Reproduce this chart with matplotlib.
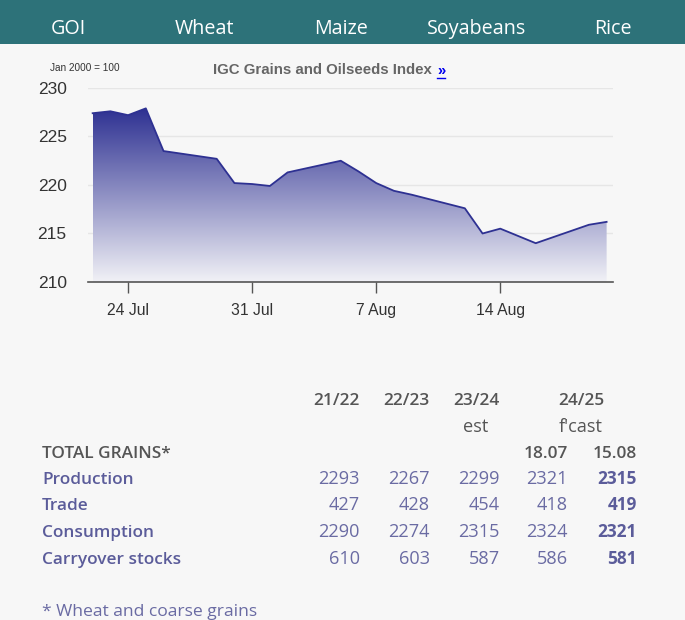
import matplotlib
matplotlib.use("Agg")
import matplotlib.pyplot as plt
import matplotlib.dates as mdates
from matplotlib.path import Path
from matplotlib.patches import PathPatch, Rectangle
from matplotlib.lines import Line2D
from matplotlib.colors import LinearSegmentedColormap
import numpy as np
import datetime as dt

# ---------------- data ----------------
nav_items = ["GOI", "Wheat", "Maize", "Soyabeans", "Rice"]

dates = ["2024-07-22", "2024-07-23", "2024-07-24", "2024-07-25", "2024-07-26",
         "2024-07-29", "2024-07-30", "2024-07-31", "2024-08-01", "2024-08-02",
         "2024-08-05", "2024-08-06", "2024-08-07", "2024-08-08", "2024-08-09",
         "2024-08-12", "2024-08-13", "2024-08-14", "2024-08-15", "2024-08-16",
         "2024-08-19", "2024-08-20"]
index_values = [227.4, 227.6, 227.2, 227.9, 223.5,
                222.7, 220.2, 220.1, 219.9, 221.3,
                222.5, 221.4, 220.2, 219.4, 219.0,
                217.6, 215.0, 215.5, 214.75, 214.0,
                215.9, 216.2]
xtick_dates = ["2024-07-24", "2024-07-31", "2024-08-07", "2024-08-14"]
xtick_labels = ["24 Jul", "31 Jul", "7 Aug", "14 Aug"]
yticks = [210, 215, 220, 225, 230]

col_headers = ["21/22", "22/23", "23/24", "24/25"]
sub_headers = ["est", "f'cast"]
total_label = "TOTAL GRAINS*"
forecast_dates = ["18.07", "15.08"]
row_labels = ["Production", "Trade", "Consumption", "Carryover stocks"]
production = [2293, 2267, 2299, 2321, 2315]
trade = [427, 428, 454, 418, 419]
consumption = [2290, 2274, 2315, 2324, 2321]
carryover = [610, 603, 587, 586, 581]
footnote = "* Wheat and coarse grains"

# ---------------- figure ----------------
W, H = 685, 620
fig = plt.figure(figsize=(W / 100, H / 100), dpi=100)
fig.patch.set_facecolor("#f7f7f7")


def fx(x):
    return x / W


def fy(y):
    return 1 - y / H


# header bar
fig.patches.append(Rectangle((0, fy(44)), 1, 44 / H, transform=fig.transFigure,
                             facecolor="#2d7279", edgecolor="none", zorder=0))
nav_x = [68, 204, 341, 477, 613]
for name, x in zip(nav_items, nav_x):
    fig.text(fx(x), fy(34), name, ha="center", va="baseline", color="white",
             fontsize=14.2, family="Open Sans")

# ---------------- chart ----------------
ax_l, ax_r, ax_t, ax_b = 87.5, 613, 88, 282
ax = fig.add_axes([fx(ax_l), fy(ax_b), (ax_r - ax_l) / W, (ax_b - ax_t) / H])
ax.set_facecolor("#f7f7f7")

xd = mdates.date2num([dt.datetime.strptime(d, "%Y-%m-%d") for d in dates])
yv = np.array(index_values)
ax.set_ylim(210, 230)
ax.set_xlim(xd[0] - 0.29, xd[-1] + 0.36)

for t in yticks[1:]:
    ax.axhline(t, color="#e6e6e6", lw=1, zorder=1)

# gradient fill
verts = [(xd[0], 210)] + list(zip(xd, yv)) + [(xd[-1], 210), (xd[0], 210)]
codes = [Path.MOVETO] + [Path.LINETO] * (len(verts) - 2) + [Path.CLOSEPOLY]
patch = PathPatch(Path(verts, codes), facecolor="none", edgecolor="none")
ax.add_patch(patch)
cmap = LinearSegmentedColormap.from_list("g", ["#f1f1f6", "#2e3192"])
grad = np.linspace(0, 1, 256).reshape(-1, 1)
im = ax.imshow(grad, cmap=cmap, aspect="auto", origin="lower",
               extent=[xd[0], xd[-1], 210, max(yv)], zorder=2)
im.set_clip_path(patch)
ax.plot(xd, yv, color="#2e3192", lw=1.3, zorder=3)

ax.set_yticks(yticks)
ax.set_yticklabels([str(t) for t in yticks], fontsize=12.5, color="#333333",
                   family="Liberation Sans")
xt = mdates.date2num([dt.datetime.strptime(d, "%Y-%m-%d") for d in xtick_dates])
ax.set_xticks(xt)
ax.set_xticklabels(xtick_labels, fontsize=11.3, color="#333333",
                   family="Liberation Sans")
ax.tick_params(axis="y", length=0, pad=15)
ax.tick_params(axis="x", length=8, width=1, color="#555555", pad=7)
for s in ["top", "right", "left"]:
    ax.spines[s].set_visible(False)
ax.spines["bottom"].set_color("#555555")
ax.spines["bottom"].set_linewidth(1.2)

# titles
fig.text(fx(432), fy(70.5), "IGC Grains and Oilseeds Index", ha="right", va="center",
         fontsize=10.8, weight="bold", color="#666666", family="Liberation Sans")
fig.text(fx(437), fy(70.5), "\u00bb", ha="left", va="center", fontsize=10.8,
         weight="bold", color="#0000ee", family="Liberation Sans")
fig.lines.append(Line2D([fx(437), fx(445)], [fy(78), fy(78)], transform=fig.transFigure,
                        color="#0000ee", lw=1))
fig.text(fx(50), fy(68), "Jan 2000 = 100", ha="left", va="center", fontsize=7.2,
         color="#333333", family="Liberation Sans")

# ---------------- table ----------------
hdr_color = "#555555"
lab_color = "#5b5c9a"
num_color = "#6a6ba3"
lfs = 12.4
nfs = 13.1
col_right = [360, 430, 500, 568, 637]

y_h1, y_h2, y_tot = 405, 431.5, 457.5
row_y = [484.5, 510.5, 537, 563.5]

for x, t in zip(col_right[:3], col_headers[:3]):
    fig.text(fx(x), fy(y_h1), t, ha="right", va="baseline", fontsize=lfs,
             weight="semibold", color=hdr_color, family="Open Sans")
fig.text(fx(581), fy(y_h1), col_headers[3], ha="center", va="baseline", fontsize=lfs,
         weight="semibold", color=hdr_color, family="Open Sans")
fig.text(fx(476), fy(y_h2), sub_headers[0], ha="center", va="baseline", fontsize=nfs,
         color=hdr_color, family="Open Sans")
fig.text(fx(581), fy(y_h2), sub_headers[1], ha="center", va="baseline", fontsize=nfs,
         color=hdr_color, family="Open Sans")
fig.text(fx(42), fy(y_tot), total_label, ha="left", va="baseline", fontsize=lfs,
         weight="semibold", color=hdr_color, family="Open Sans")
for x, t in zip(col_right[3:], forecast_dates):
    fig.text(fx(x), fy(y_tot), t, ha="right", va="baseline", fontsize=lfs,
             weight="semibold", color=hdr_color, family="Open Sans")

rows = [production, trade, consumption, carryover]
for y, lab, vals in zip(row_y, row_labels, rows):
    fig.text(fx(42), fy(y), lab, ha="left", va="baseline", fontsize=lfs,
             weight="semibold", color=lab_color, family="Open Sans")
    for i, (x, v) in enumerate(zip(col_right, vals)):
        bold = i == len(vals) - 1
        fig.text(fx(x), fy(y), str(v), ha="right", va="baseline",
                 fontsize=lfs if bold else nfs,
                 weight="bold" if bold else "normal",
                 color=lab_color if bold else num_color, family="Open Sans")

fig.text(fx(42), fy(616.5), footnote, ha="left", va="baseline", fontsize=12.6,
         color=num_color, family="Open Sans")

fig.savefig("out.png", dpi=100, facecolor=fig.get_facecolor())
